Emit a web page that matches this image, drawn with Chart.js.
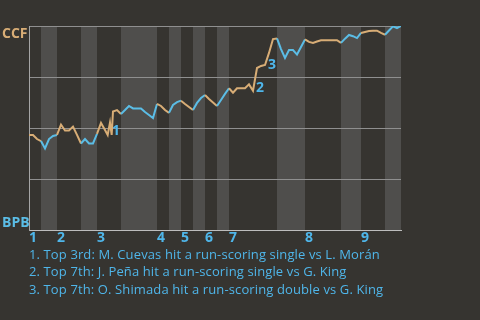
<!DOCTYPE html>
<html>
<head>
<meta charset="utf-8">
<script src="https://cdn.jsdelivr.net/npm/chart.js@4.4.1/dist/chart.umd.min.js"></script>
<style>
  html, body { margin: 0; padding: 0; background: #363430; }
  .wrap { position: relative; width: 480px; height: 320px; overflow: hidden; }
  canvas { position: absolute; left: 0; top: 0; }
  .notes {
    position: absolute; left: 29px; top: 245.5px;
    font: 13px "Open Sans", sans-serif; line-height: 17.5px; letter-spacing: 0.12px;
    color: #4fb6ea; white-space: nowrap;
  }
</style>
</head>
<body>
<div class="wrap">
  <canvas id="wp" width="480" height="320"></canvas>
  <div class="notes" id="notes"></div>
</div>
<script>
// plate appearances in each half-inning: top 1st, bottom 1st, top 2nd, ...
const halfInningPAs = [3, 4, 6, 4, 6, 9, 3, 3, 3, 3, 3, 3, 12, 7, 9, 5, 6, 4];
const inningNames = ["1", "2", "3", "4", "5", "6", "7", "8", "9"];
const teamNames = ["CCF", "BPB"]; // away (top of chart), home (bottom)

// game progress (plate appearances, a few mid-PA events) and CCF win chance (%)
const plays = [
  0, 1, 2, 3, 4, 5, 6, 7, 8, 9, 10, 11, 12, 13, 14, 15, 16, 17, 18, 19,
  19.67, 20.25, 20.67,
  21, 22, 23, 24, 25, 26, 27, 28, 29, 30, 31, 32, 33, 34, 35, 36, 37, 38, 39, 40,
  41, 42, 43, 44, 45, 46, 47, 48, 49, 50, 51, 52, 53, 54, 55, 56, 57, 58, 59, 60,
  61, 62, 63, 64, 65, 66, 67, 68, 69, 70, 71, 72, 73, 74, 75, 76, 77, 78, 79, 80,
  81, 82, 83, 84, 85, 86, 87, 88, 89, 90, 91, 92, 93
];
const ccfWinPct = [
  46.6, 46.6, 44.6, 43.6, 40.0, 44.6, 46.1, 46.6, 51.7, 48.8, 48.8, 50.7, 46.6, 42.4, 44.6, 42.4, 42.4, 47.1, 52.5, 49.0,
  46.6, 52.7, 46.6,
  58.1, 58.8, 56.9, 58.8, 60.8, 59.6, 59.6, 59.6, 57.8, 56.4, 54.9, 61.8, 60.8, 58.8, 57.4, 61.3, 62.7, 63.4, 61.8, 60.3,
  58.8, 62.3, 64.7, 66.2, 64.2, 62.5, 60.8, 63.7, 66.7, 69.5, 67.3, 69.5, 69.5, 69.5, 71.4, 68.3, 79.4, 80.4, 80.9, 86.8,
  93.6, 93.9, 88.7, 84.3, 88.2, 88.2, 86.0, 89.7, 93.4, 92.2, 91.7, 92.4, 93.0, 93.0, 93.0, 93.0, 93.0, 91.7, 93.8, 95.6,
  95.0, 94.1, 96.6, 97.1, 97.5, 97.7, 97.7, 96.6, 95.7, 97.8, 99.8, 99.0, 100
];

// key plays: where they happened and what they were
const keyPlayAt = [21, 57, 60];
const keyPlayText = [
  "Top 3rd: M. Cuevas hit a run-scoring single vs L. Morán",
  "Top 7th: J. Peña hit a run-scoring single vs G. King",
  "Top 7th: O. Shimada hit a run-scoring double vs G. King"
];

const TAN = "#d8ad76";
const BLUE = "#5bbde6";
const TEXT_BLUE = "#4fb6ea";
const BG = "#363430";
const BAND = "#4f4e4c";

// half-inning boundaries in PA units
const bounds = [0];
halfInningPAs.forEach((n) => bounds.push(bounds[bounds.length - 1] + n));
const inningStarts = inningNames.map((_, i) => bounds[i * 2]);
const totalPAs = bounds[bounds.length - 1];

const halfOf = (x) => {
  for (let h = 0; h < halfInningPAs.length; h++) {
    if (x <= bounds[h + 1]) return h;
  }
  return halfInningPAs.length - 1;
};

document.getElementById("notes").innerHTML = keyPlayText
  .map((t, i) => `<div>${i + 1}. ${t}</div>`)
  .join("");

const backdrop = {
  id: "backdrop",
  beforeDraw(chart) {
    const { ctx, chartArea: a, scales } = chart;
    ctx.save();
    ctx.fillStyle = BG;
    ctx.fillRect(0, 0, chart.width, chart.height);
    ctx.fillStyle = BAND;
    for (let h = 1; h < halfInningPAs.length; h += 2) {
      const x0 = scales.x.getPixelForValue(bounds[h]);
      const x1 = scales.x.getPixelForValue(bounds[h + 1]);
      ctx.fillRect(x0, a.top, x1 - x0, a.bottom - a.top);
    }
    ctx.restore();
  },
};

const labels = {
  id: "labels",
  afterDatasetsDraw(chart) {
    const { ctx, chartArea: a } = chart;
    const pts = chart.getDatasetMeta(0).data;
    ctx.save();
    ctx.font = "bold 14px 'Open Sans', sans-serif";
    ctx.textAlign = "left";
    ctx.textBaseline = "alphabetic";
    const dy = [23.5, 23.5, 16.5];
    keyPlayAt.forEach((at, i) => {
      const p = pts[plays.indexOf(at)];
      ctx.fillStyle = TEXT_BLUE;
      ctx.fillText(String(i + 1), p.x - 1, p.y + dy[i]);
    });
    ctx.fillStyle = TAN;
    ctx.fillText(teamNames[0], 2, a.top + 12);
    ctx.fillStyle = BLUE;
    ctx.fillText(teamNames[1], 2, a.bottom - 3.5);
    ctx.restore();
  },
};

new Chart(document.getElementById("wp"), {
  type: "line",
  data: {
    datasets: [
      {
        data: plays.map((x, i) => ({ x, y: ccfWinPct[i] })),
        borderWidth: 2,
        pointRadius: 0,
        tension: 0,
        borderColor: TAN,
        segment: {
          borderColor: (ctx) => (halfOf(ctx.p1.parsed.x) % 2 === 0 ? TAN : BLUE),
        },
      },
    ],
  },
  options: {
    responsive: false,
    animation: false,
    layout: { padding: { left: 29, right: 79, top: 26, bottom: 66 } },
    plugins: { legend: { display: false }, tooltip: { enabled: false } },
    scales: {
      x: {
        type: "linear",
        min: 0,
        max: totalPAs,
        afterBuildTicks: (scale) => {
          scale.ticks = inningStarts.map((v) => ({ value: v }));
        },
        afterFit: (scale) => {
          scale.height = 24;
        },
        grid: { display: false, drawTicks: false },
        border: { display: true, color: "#bdbdbd", width: 1 },
        ticks: {
          autoSkip: false,
          maxRotation: 0,
          align: "start",
          padding: 0,
          color: TEXT_BLUE,
          font: { family: "'Open Sans', sans-serif", size: 14, weight: "bold" },
          callback: (v) => inningNames[inningStarts.indexOf(v)],
        },
      },
      y: {
        min: 0,
        max: 100,
        ticks: { display: false, stepSize: 25 },
        afterFit: (scale) => {
          scale.width = 0;
        },
        grid: { color: "#8f8f8f", lineWidth: 1, drawTicks: false },
        border: { display: true, color: "#a5a5a5", width: 1 },
      },
    },
  },
  plugins: [backdrop, labels],
});
</script>
</body>
</html>
